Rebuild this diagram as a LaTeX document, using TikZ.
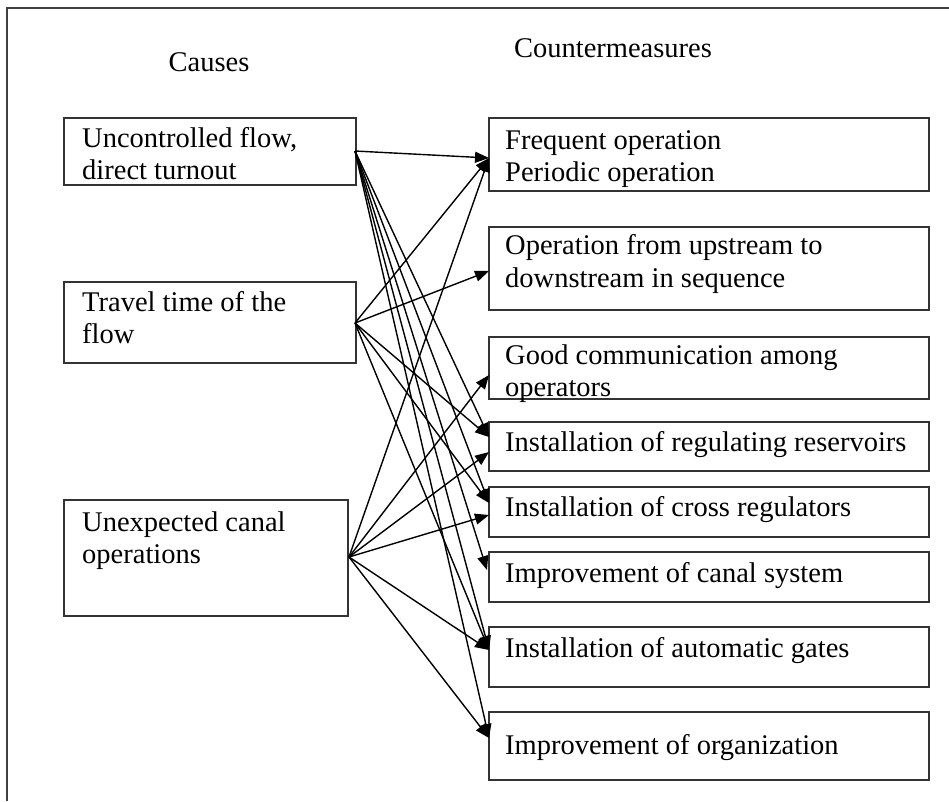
\documentclass[tikz,border=0pt]{standalone}
\usepackage{fontspec}
\setmainfont{Liberation Serif}
\usetikzlibrary{arrows.meta}
\begin{document}
\begin{tikzpicture}[x=1pt,y=-1pt,
  box/.style={draw=black!80, line width=1.4pt, inner sep=0pt, outer sep=0pt, rectangle},
  txt/.style={anchor=base west, inner sep=0pt, font=\fontsize{28.5}{32}\selectfont},
  head/.style={anchor=base, inner sep=0pt, font=\fontsize{28.5}{32}\selectfont},
  link/.style={line width=1.4pt, -{Triangle[length=14pt,width=11pt]}}]
\useasboundingbox (0,0) rectangle (949,801);
\fill[white] (0,0) rectangle (949,801);
\draw[line width=2pt, black!75] (7,801) -- (7,8) -- (949,8);
% headings
\node[head] (hc) at (209,71) {Causes};
\node[head] (hm) at (613,57) {Countermeasures};
% cause boxes
\node[box, minimum width=292pt, minimum height=67pt] (b1) at (210,151.5) {};
\node[box, minimum width=292pt, minimum height=81pt] (b2) at (210,322.5) {};
\node[box, minimum width=284pt, minimum height=116pt] (b3) at (206,558) {};
\node[txt] (b1a) at (82,147) {Uncontrolled flow,};
\node[txt] (b1b) at (82,179) {direct turnout};
\node[txt] (b2a) at (82,311) {Travel time of the};
\node[txt] (b2b) at (82,343) {flow};
\node[txt] (b3a) at (82,531) {Unexpected canal};
\node[txt] (b3b) at (82,563) {operations};
% countermeasure boxes
\node[box, minimum width=440pt, minimum height=73pt] (r1) at (709,154.5) {};
\node[box, minimum width=440pt, minimum height=83pt] (r2) at (709,268.5) {};
\node[box, minimum width=440pt, minimum height=62pt] (r3) at (709,368) {};
\node[box, minimum width=440pt, minimum height=49pt] (r4) at (709,446.5) {};
\node[box, minimum width=440pt, minimum height=50pt] (r5) at (709,512) {};
\node[box, minimum width=440pt, minimum height=50pt] (r6) at (709,577) {};
\node[box, minimum width=440pt, minimum height=60pt] (r7) at (709,657) {};
\node[box, minimum width=440pt, minimum height=68pt] (r8) at (709,746) {};
\node[txt] (r1a) at (505,149) {Frequent operation};
\node[txt] (r1b) at (505,181) {Periodic operation};
\node[txt] (r2a) at (505,254) {Operation from upstream to};
\node[txt] (r2b) at (505,287) {downstream in sequence};
\node[txt] (r3a) at (505,364) {Good communication among};
\node[txt] (r3b) at (505,396) {operators};
\node[txt] (r4a) at (505,451) {Installation of regulating reservoirs};
\node[txt] (r5a) at (505,516) {Installation of cross regulators};
\node[txt] (r6a) at (505,582) {Improvement of canal system};
\node[txt] (r7a) at (505,657) {Installation of automatic gates};
\node[txt] (r8a) at (505,754) {Improvement of organization};
% source and target points
\coordinate (s1) at (355,151);
\coordinate (s2) at (355,323);
\coordinate (s3) at (349,557);
\coordinate (t1) at (489,158);
\coordinate (t2) at (489,271);
\coordinate (t3) at (489,375);
\coordinate (t4a) at (489,437);
\coordinate (t4b) at (489,452);
\coordinate (t5a) at (489,503);
\coordinate (t5b) at (489,515);
\coordinate (t6) at (487,570);
\coordinate (t7) at (489,650);
\coordinate (t8) at (489,738);
% connectors from cause 1
\draw[link] (s1) -- (t1);
\draw[link] (s1) -- (t4a);
\draw[link] (s1) -- (t5a);
\draw[link] (s1) -- (t6);
\draw[link] (s1) -- (t7);
\draw[link] (s1) -- (t8);
% connectors from cause 2
\draw[link] (s2) -- (t1);
\draw[link] (s2) -- (t2);
\draw[link] (s2) -- (t4a);
\draw[link] (s2) -- (t5a);
\draw[link] (s2) -- (t7);
% connectors from cause 3
\draw[link] (s3) -- (t1);
\draw[link] (s3) -- (t3);
\draw[link] (s3) -- (t4b);
\draw[link] (s3) -- (t5b);
\draw[link] (s3) -- (t7);
\draw[link] (s3) -- (t8);
\end{tikzpicture}
\end{document}
